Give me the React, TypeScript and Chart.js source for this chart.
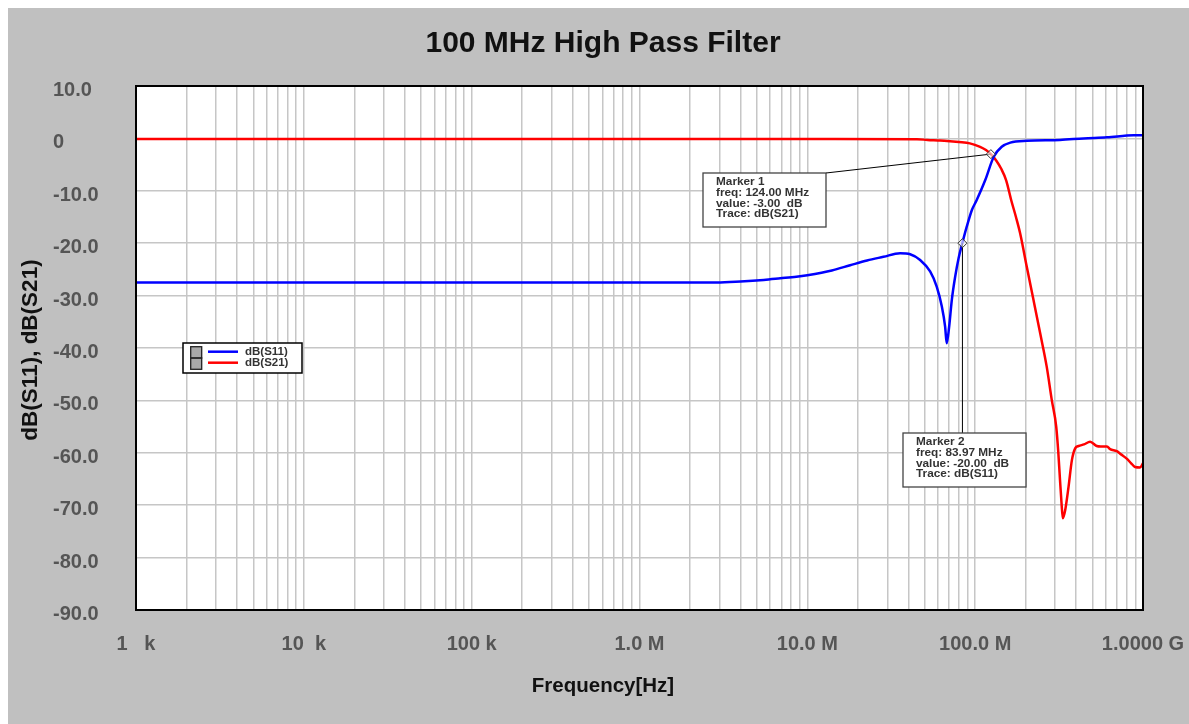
import React, { useEffect, useRef } from 'react';
import { Chart, registerables } from 'chart.js';

Chart.register(...registerables);

const FONT = "'Liberation Sans', Arial, sans-serif";

const chartTitle = '100 MHz High Pass Filter';
const xAxisTitle = 'Frequency[Hz]';
const yAxisTitle = 'dB(S11), dB(S21)';

const seriesNames = ['dB(S11)', 'dB(S21)'];
const seriesColors = ['#0000ff', '#ff0000'];

const s11Freq = [1e3, 1e5, 1e6, 2.89e6, 4.0e6, 5.5e6, 6.9e6, 8.6e6, 1.0e7, 1.4e7, 1.8e7, 2.27e7, 2.84e7, 3.57e7, 4.1e7, 4.7e7, 5.39e7, 5.9e7, 6.33e7, 6.62e7, 6.77e7, 7.0e7, 7.26e7, 7.6e7, 7.96e7, 8.4e7, 8.9e7, 9.55e7, 1.02e8, 1.15e8, 1.29e8, 1.44e8, 1.62e8, 2.03e8, 3.2e8, 4.42e8, 6.1e8, 8.8e8, 1e9];
const s11Db = [-27.5, -27.5, -27.5, -27.5, -27.3, -27.0, -26.7, -26.4, -26.1, -25.2, -24.2, -23.3, -22.6, -21.9, -22.1, -23.2, -25.4, -28.3, -32.1, -35.9, -39.1, -35.9, -30.8, -26.4, -22.9, -19.9, -16.9, -13.7, -11.8, -7.9, -3.5, -1.6, -0.8, -0.45, -0.3, 0, 0.2, 0.6, 0.6];

const s21Freq = [1e3, 1e4, 1e5, 1e6, 1e7, 4.5e7, 5.2e7, 6e7, 6.8e7, 8e7, 9.3e7, 1.07e8, 1.16e8, 1.24e8, 1.334e8, 1.43e8, 1.53e8, 1.64e8, 1.75e8, 1.853e8, 2.03e8, 2.225e8, 2.44e8, 2.67e8, 2.86e8, 3.04e8, 3.13e8, 3.2e8, 3.27e8, 3.33e8, 3.44e8, 3.6e8, 3.77e8, 3.95e8, 4.13e8, 4.45e8, 4.84e8, 5.3e8, 5.6e8, 6.1e8, 6.37e8, 6.98e8, 7.4e8, 8.0e8, 8.5e8, 8.97e8, 9.6e8, 1e9];
const s21Db = [-0.1, -0.1, -0.1, -0.1, -0.1, -0.15, -0.3, -0.4, -0.5, -0.7, -0.95, -1.6, -2.2, -3.0, -4.2, -5.8, -8.0, -11.8, -15.0, -18.1, -24.5, -30.8, -37.2, -43.6, -49.9, -55.0, -60.0, -65.0, -69.6, -72.5, -70.9, -66.5, -61.4, -59.1, -58.7, -58.4, -57.9, -58.7, -58.8, -58.8, -59.3, -59.7, -60.3, -61.1, -62.0, -62.7, -62.8, -62.0];

const xTickValues = [1e3, 1e4, 1e5, 1e6, 1e7, 1e8, 1e9];
const xTickLabels = ['1   k', '10  k', '100 k', '1.0 M', '10.0 M', '100.0 M', '1.0000 G'];
const yTickValues = [10, 0, -10, -20, -30, -40, -50, -60, -70, -80, -90];
const yTickLabels = ['10.0', '0', '-10.0', '-20.0', '-30.0', '-40.0', '-50.0', '-60.0', '-70.0', '-80.0', '-90.0'];

const markerNames = ['Marker 1', 'Marker 2'];
const markerFreqs = [124e6, 83.97e6];
const markerValues = [-3.0, -20.0];
const markerFreqLabels = ['124.00 MHz', '83.97 MHz'];
const markerValueLabels = ['-3.00  dB', '-20.00  dB'];
const markerTraces = ['dB(S21)', 'dB(S11)'];

// layout (canvas coordinates) of annotation boxes and titles
const markerBoxes = [
  { x: 695, y: 165, w: 123, h: 54 },
  { x: 895, y: 425, w: 123, h: 54 },
];
const legendBox = { x: 175, y: 335, w: 119, h: 30 };

function gridValues(): number[] {
  const out: number[] = [];
  for (let e = 3; e < 9; e++) {
    for (let m = 1; m <= 9; m++) out.push(m * Math.pow(10, e));
  }
  out.push(1e9);
  return out;
}

const framePlugin = {
  id: 'frame',
  beforeDraw(chart: any) {
    const { ctx, chartArea: a } = chart;
    ctx.save();
    ctx.fillStyle = '#c0c0c0';
    ctx.fillRect(0, 0, chart.width, chart.height);
    ctx.fillStyle = '#ffffff';
    ctx.fillRect(a.left, a.top, a.right - a.left, a.bottom - a.top);
    ctx.restore();
  },
  afterDraw(chart: any) {
    const { ctx, chartArea: a } = chart;
    const xs = chart.scales.x;
    const ys = chart.scales.y;
    ctx.save();
    // plot border
    ctx.strokeStyle = '#000';
    ctx.lineWidth = 2;
    ctx.strokeRect(a.left, a.top, a.right - a.left, a.bottom - a.top);

    // titles
    ctx.fillStyle = '#111';
    ctx.textAlign = 'center';
    ctx.textBaseline = 'alphabetic';
    ctx.font = `bold 30px ${FONT}`;
    ctx.fillText(chartTitle, 595, 43.7);
    ctx.font = `bold 20.5px ${FONT}`;
    ctx.fillText(xAxisTitle, 595, 683.7);
    ctx.save();
    ctx.translate(28.7, (a.top + a.bottom) / 2 + 2);
    ctx.rotate(-Math.PI / 2);
    ctx.font = `bold 22.5px ${FONT}`;
    ctx.fillText(yAxisTitle, 0, 0);
    ctx.restore();

    // markers
    for (let i = 0; i < markerNames.length; i++) {
      const px = xs.getPixelForValue(markerFreqs[i]);
      const py = ys.getPixelForValue(markerValues[i]);
      const b = markerBoxes[i];
      const lx = Math.min(Math.max(px, b.x), b.x + b.w);
      ctx.strokeStyle = '#000';
      ctx.lineWidth = 1;
      ctx.beginPath();
      ctx.moveTo(px, py);
      ctx.lineTo(lx, b.y);
      ctx.stroke();
      // diamond
      const d = 4.5;
      ctx.beginPath();
      ctx.moveTo(px, py - d);
      ctx.lineTo(px + d, py);
      ctx.lineTo(px, py + d);
      ctx.lineTo(px - d, py);
      ctx.closePath();
      ctx.fillStyle = 'rgba(255,255,255,0.6)';
      ctx.fill();
      ctx.strokeStyle = '#333';
      ctx.stroke();
      // box
      ctx.fillStyle = '#fff';
      ctx.fillRect(b.x, b.y, b.w, b.h);
      ctx.strokeStyle = '#444';
      ctx.lineWidth = 1.3;
      ctx.strokeRect(b.x, b.y, b.w, b.h);
      ctx.fillStyle = '#333';
      ctx.font = `bold 11.8px ${FONT}`;
      ctx.textAlign = 'left';
      ctx.textBaseline = 'middle';
      const lines = [
        markerNames[i],
        `freq: ${markerFreqLabels[i]}`,
        `value: ${markerValueLabels[i]}`,
        `Trace: ${markerTraces[i]}`,
      ];
      lines.forEach((t, k) => ctx.fillText(t, b.x + 13, b.y + 8.5 + k * 10.9));
    }

    // legend
    const L = legendBox;
    ctx.fillStyle = '#fff';
    ctx.fillRect(L.x, L.y, L.w, L.h);
    ctx.strokeStyle = '#000';
    ctx.lineWidth = 1.5;
    ctx.strokeRect(L.x, L.y, L.w, L.h);
    const ix = L.x + 7.7, iy = L.y + 3.7, iw = 11, ih = 22.6;
    ctx.fillStyle = '#a8a8a8';
    ctx.fillRect(ix, iy, iw, ih);
    ctx.strokeStyle = '#222';
    ctx.lineWidth = 1.3;
    ctx.strokeRect(ix, iy, iw, ih / 2);
    ctx.strokeRect(ix, iy + ih / 2, iw, ih / 2);
    ctx.font = `bold 11.5px ${FONT}`;
    ctx.textAlign = 'left';
    ctx.textBaseline = 'middle';
    for (let i = 0; i < seriesNames.length; i++) {
      const y = L.y + 8.7 + i * 11;
      ctx.strokeStyle = seriesColors[i];
      ctx.lineWidth = 2.5;
      ctx.beginPath();
      ctx.moveTo(L.x + 25, y);
      ctx.lineTo(L.x + 55, y);
      ctx.stroke();
      ctx.fillStyle = '#333';
      ctx.fillText(seriesNames[i], L.x + 62, y);
    }
    ctx.restore();
  },
};

export default function App() {
  const ref = useRef<HTMLCanvasElement>(null);
  useEffect(() => {
    const grid = gridValues();
    const chart = new Chart(ref.current as HTMLCanvasElement, {
      type: 'line',
      data: {
        datasets: [
          {
            label: seriesNames[0],
            data: s11Freq.map((f, i) => ({ x: f, y: s11Db[i] })),
            borderColor: seriesColors[0],
            backgroundColor: seriesColors[0],
            borderWidth: 2.5,
            pointRadius: 0,
            cubicInterpolationMode: 'monotone',
            fill: false,
          },
          {
            label: seriesNames[1],
            data: s21Freq.map((f, i) => ({ x: f, y: s21Db[i] })),
            borderColor: seriesColors[1],
            backgroundColor: seriesColors[1],
            borderWidth: 2.5,
            pointRadius: 0,
            cubicInterpolationMode: 'monotone',
            fill: false,
          },
        ],
      },
      options: {
        responsive: false,
        animation: false,
        devicePixelRatio: 1,
        layout: { padding: { left: 45, top: 78, right: 46, bottom: 0 } },
        plugins: {
          legend: { display: false },
          tooltip: { enabled: false },
          title: { display: false },
        },
        scales: {
          x: {
            type: 'logarithmic',
            position: 'bottom',
            min: 1e3,
            max: 1e9,
            afterBuildTicks: (s: any) => {
              s.ticks = grid.map((v) => ({ value: v }));
            },
            afterFit: (s: any) => {
              s.height = 114;
              s.paddingLeft = 0;
              s.paddingRight = 0;
            },
            grid: { color: '#c6c6c6', lineWidth: 1.5, drawTicks: false },
            border: { display: false },
            ticks: {
              autoSkip: false,
              maxRotation: 0,
              minRotation: 0,
              padding: 22,
              color: '#555',
              font: { family: FONT, size: 20, weight: 'bold', lineHeight: 1.2 },
              callback: (v: any) => {
                const i = xTickValues.findIndex((t) => Math.abs(t - Number(v)) / t < 1e-9);
                return i >= 0 ? xTickLabels[i] : '';
              },
            },
            title: { display: false },
          },
          y: {
            type: 'linear',
            position: 'left',
            min: -90,
            max: 10,
            afterFit: (s: any) => {
              s.width = 83;
              s.paddingTop = 0;
              s.paddingBottom = 0;
            },
            grid: { color: '#c6c6c6', lineWidth: 1.5, drawTicks: false },
            border: { display: false },
            ticks: {
              stepSize: 10,
              crossAlign: 'far',
              padding: 0,
              color: '#555',
              font: { family: FONT, size: 20, weight: 'bold', lineHeight: 0.45 },
              callback: (v: any) => {
                const i = yTickValues.indexOf(Math.round(Number(v)));
                // empty first line nudges the label slightly below its grid line, as in the reference
                return i >= 0 ? ['', yTickLabels[i]] : '';
              },
            },
            title: { display: false },
          },
        },
      } as any,
      plugins: [framePlugin],
    });
    return () => chart.destroy();
  }, []);
  return (
    <div
      style={{
        position: 'fixed',
        left: 8,
        top: 8,
        width: 1181,
        height: 716,
        background: '#c0c0c0',
      }}
    >
      <canvas ref={ref} width={1181} height={716} style={{ display: 'block', width: 1181, height: 716 }} />
    </div>
  );
}
